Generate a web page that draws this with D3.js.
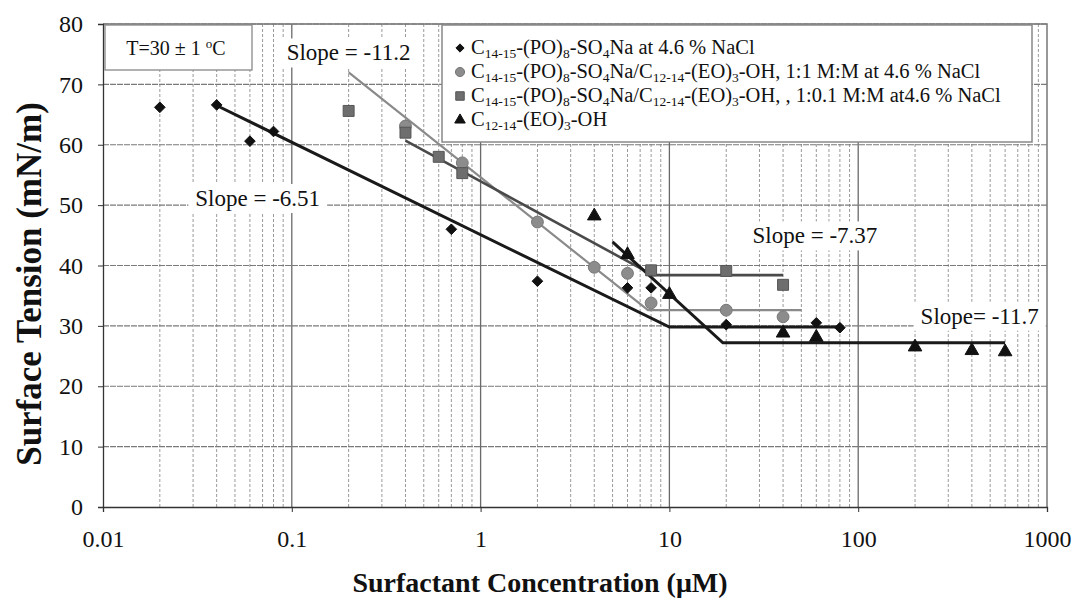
<!DOCTYPE html>
<html>
<head>
<meta charset="utf-8">
<script src="https://cdn.jsdelivr.net/npm/d3@7"></script>
<style>
html,body{margin:0;padding:0;background:#fff;}
svg text{font-family:"Liberation Serif","Times New Roman",serif;fill:#111;}
</style>
</head>
<body>
<svg id="chart" width="1077" height="602"></svg>
<script>
// ---- data ----
const xTicks = [0.01, 0.1, 1, 10, 100, 1000];
const xTickLabels = ["0.01", "0.1", "1", "10", "100", "1000"];
const yTicks = [0, 10, 20, 30, 40, 50, 60, 70, 80];

const seriesNames = [
  "C_{14-15}-(PO)_{8}-SO_{4}Na at 4.6 % NaCl",
  "C_{14-15}-(PO)_{8}-SO_{4}Na/C_{12-14}-(EO)_{3}-OH, 1:1 M:M at 4.6 % NaCl",
  "C_{14-15}-(PO)_{8}-SO_{4}Na/C_{12-14}-(EO)_{3}-OH, , 1:0.1 M:M at4.6 % NaCl",
  "C_{12-14}-(EO)_{3}-OH"
];

const s1X = [0.02, 0.04, 0.06, 0.08, 0.7, 2, 6, 8, 20, 60, 80];
const s1Y = [66.2, 66.6, 60.6, 62.2, 46.0, 37.4, 36.3, 36.3, 30.2, 30.5, 29.7];
const s2X = [0.4, 0.8, 2, 4, 6, 8, 20, 40];
const s2Y = [63.1, 57.0, 47.2, 39.7, 38.7, 33.8, 32.6, 31.5];
const s3X = [0.2, 0.4, 0.6, 0.8, 8, 20, 40];
const s3Y = [65.6, 62.0, 58.0, 55.3, 39.2, 39.1, 36.8];
const s4X = [4, 6, 10, 40, 60, 200, 400, 600];
const s4Y = [48.2, 41.8, 35.2, 28.8, 28.1, 26.5, 25.9, 25.7];

// fitted trend lines
const fit1X = [0.04, 10, 80];   const fit1Y = [66.5, 29.8, 29.8];
const fit2X = [0.2, 7.7, 50];   const fit2Y = [72.0, 32.6, 32.6];
const fit3X = [0.4, 8.2, 40];   const fit3Y = [60.7, 38.4, 38.4];
const fit4X = [5, 19.2, 600];   const fit4Y = [43.9, 27.2, 27.2];

const slopeLabels = ["Slope = -6.51", "Slope = -11.2", "Slope = -7.37", "Slope= -11.7"];
const slopeLabelX = [0.066, 0.2, 59, 440];
const slopeLabelY = [51.1, 75.2, 44.9, 31.6];

// ---- chart ----
const svg = d3.select("#chart");
const L = 103, R = 1047, T = 24, B = 507;
const x = d3.scaleLog().domain([0.01, 1000]).range([L, R]);
const y = d3.scaleLinear().domain([0, 80]).range([B, T]);

// minor vertical grid
const minor = [];
for (let d = -2; d < 3; d++) for (let k = 2; k <= 9; k++) minor.push(k * Math.pow(10, d));
const g = svg.append("g");
g.selectAll(".vmin").data(minor).join("line")
  .attr("x1", d => x(d)).attr("x2", d => x(d)).attr("y1", T).attr("y2", B)
  .attr("stroke", "#9a9a9a").attr("stroke-width", 1).attr("stroke-dasharray", "3,2");
g.selectAll(".vmaj").data(xTicks.slice(1, -1)).join("line")
  .attr("x1", d => x(d)).attr("x2", d => x(d)).attr("y1", T).attr("y2", B)
  .attr("stroke", "#6a6a6a").attr("stroke-width", 1.3);
g.selectAll(".hgrid").data(yTicks.slice(1)).join("line")
  .attr("x1", L).attr("x2", R).attr("y1", d => y(d)).attr("y2", d => y(d))
  .attr("stroke", "#7a7a7a").attr("stroke-width", 1.2).attr("stroke-dasharray", "6,1");
// frame top/right
svg.append("path").attr("d", `M${L},${T}H${R}V${B}`).attr("fill", "none").attr("stroke", "#777").attr("stroke-width", 1.5);

// axes
const xAxis = d3.axisBottom(x).tickValues(xTicks).tickFormat((d, i) => xTickLabels[i]).tickSize(5).tickPadding(18);
const yAxis = d3.axisLeft(y).tickValues(yTicks).tickSize(5).tickPadding(15);
const gx = svg.append("g").attr("transform", `translate(0,${B})`).call(xAxis);
const gy = svg.append("g").attr("transform", `translate(${L},0)`).call(yAxis);
[gx, gy].forEach(a => {
  a.select(".domain").attr("stroke", "#333").attr("stroke-width", 1.3);
  a.selectAll(".tick line").attr("stroke", "#333");
  a.selectAll("text").style("font-family", '"Liberation Serif",serif').style("font-size", "24px").attr("fill", "#222");
});

// slope label boxes (white background) -- drawn before lines
slopeLabels.forEach((t, i) => {
  const tx = x(slopeLabelX[i]), ty = y(slopeLabelY[i]);
  const lgp = svg.append("g");
  const rect = lgp.append("rect").attr("fill", "#fff");
  const txt = lgp.append("text").attr("x", tx).attr("y", ty).attr("text-anchor", "middle")
    .attr("dominant-baseline", "central").style("font-size", "23px").text(t);
  const bb = txt.node().getBBox();
  rect.attr("x", bb.x - 7).attr("y", bb.y - 2).attr("width", bb.width + 14).attr("height", bb.height + 4);
});

// fitted lines
const line = d3.line().x(d => x(d[0])).y(d => y(d[1]));
const fits = [
  {X: fit1X, Y: fit1Y, c: "#1a1a1a", w: 3},
  {X: fit2X, Y: fit2Y, c: "#8a8a8a", w: 2.2},
  {X: fit3X, Y: fit3Y, c: "#4a4a4a", w: 2.6},
  {X: fit4X, Y: fit4Y, c: "#1a1a1a", w: 3}
];
fits.forEach(f => {
  svg.append("path").datum(f.X.map((v, i) => [v, f.Y[i]])).attr("d", line)
    .attr("fill", "none").attr("stroke", f.c).attr("stroke-width", f.w);
});

// markers
const sym = [
  {type: d3.symbolDiamond2, size: 72, fill: "#111", stroke: "#111"},
  {type: d3.symbolCircle, size: 110, fill: "#8c8c8c", stroke: "#777"},
  {type: d3.symbolSquare, size: 120, fill: "#6e6e6e", stroke: "#555"},
  {type: d3.symbolTriangle, size: 80, fill: "#111", stroke: "#111"}
];
const series = [[s1X, s1Y], [s2X, s2Y], [s3X, s3Y], [s4X, s4Y]];
series.forEach((s, k) => {
  svg.append("g").selectAll("path").data(s[0].map((v, i) => [v, s[1][i]])).join("path")
    .attr("transform", d => `translate(${x(d[0])},${y(d[1])})`)
    .attr("d", d3.symbol().type(sym[k].type).size(sym[k].size))
    .attr("fill", sym[k].fill).attr("stroke", sym[k].stroke).attr("stroke-width", 1);
});

// temperature box
svg.append("rect").attr("x", 105).attr("y", 25).attr("width", 147).attr("height", 45)
  .attr("fill", "#fff").attr("stroke", "#888").attr("stroke-width", 1.3);
const tt = svg.append("text").attr("x", 176).attr("y", 55).attr("text-anchor", "middle").style("font-size", "20px");
tt.append("tspan").text("T=30 ± 1 ");
tt.append("tspan").attr("dy", -7).style("font-size", "13px").text("o");
tt.append("tspan").attr("dy", 7).text("C");

// legend
const lg = svg.append("g");
lg.append("rect").attr("x", 442).attr("y", 25).attr("width", 590).attr("height", 117)
  .attr("fill", "#fff").attr("stroke", "#888").attr("stroke-width", 1.5);
const legY = [54, 78, 102, 126];
seriesNames.forEach((name, i) => {
  lg.append("path").attr("transform", `translate(460,${legY[i] - 6})`)
    .attr("d", d3.symbol().type(sym[i].type).size(sym[i].size * 0.6))
    .attr("fill", sym[i].fill).attr("stroke", sym[i].stroke);
  const t = lg.append("text").attr("x", 471).attr("y", legY[i]).style("font-size", "20.5px");
  const parts = name.split(/(_\{[^}]*\})/).filter(p => p.length);
  let sub = false;
  parts.forEach(p => {
    if (p.startsWith("_{")) {
      t.append("tspan").attr("dy", 4).style("font-size", "13.5px").text(p.slice(2, -1));
      sub = true;
    } else {
      t.append("tspan").attr("dy", sub ? -4 : 0).text(p);
      sub = false;
    }
  });
});

// axis titles
svg.append("text").attr("x", 540).attr("y", 592).attr("text-anchor", "middle")
  .style("font-size", "28px").style("font-weight", "bold").text("Surfactant Concentration (μM)");
svg.append("text").attr("transform", "translate(41,284) rotate(-90)").attr("text-anchor", "middle")
  .style("font-size", "35px").style("font-weight", "bold").text("Surface Tension (mN/m)");
</script>
</body>
</html>
